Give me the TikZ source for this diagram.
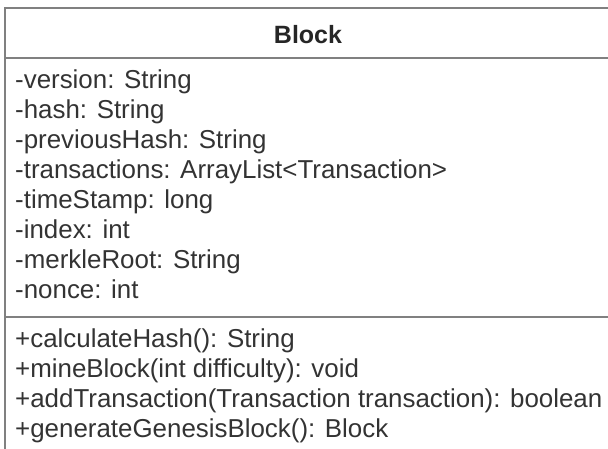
\documentclass[tikz,border=0pt]{standalone}
\usepackage{fontspec}
\setmainfont{Liberation Sans}

\begin{document}
\begin{tikzpicture}[
  x=1pt, y=-1pt,
  frame/.style={draw=black!50, line width=2.5pt},
  classname/.style={anchor=base, inner sep=0pt, font=\fontsize{25}{30}\selectfont\bfseries, text=black!85},
  member/.style={anchor=base west, inner sep=0pt, font=\fontsize{25.9}{30}\selectfont, text=black!80}
]
\useasboundingbox (0,0) rectangle (608,448);

% class box, cut off at the right and bottom
\draw[frame] (5,470) -- (5,8) -- (630,8);
\draw[frame] (5,58) -- (630,58);
\draw[frame] (5,317) -- (630,317);

\node[classname] (block) at (308,43) {Block};

% attributes
\node[member] (version) at (15,88) {-version: String};
\node[member] (hash) at (15,118) {-hash: String};
\node[member] (prevhash) at (15,148) {-previousHash: String};
\node[member] (transactions) at (15,178) {-transactions: ArrayList<Transaction>};
\node[member] (timestamp) at (15,208) {-timeStamp: long};
\node[member] (index) at (15,238) {-index: int};
\node[member] (merkle) at (15,268) {-merkleRoot: String};
\node[member] (nonce) at (15,298) {-nonce: int};

% methods
\node[member] (calchash) at (15,347) {+calculateHash(): String};
\node[member] (mine) at (15,377) {+mineBlock(int difficulty): void};
\node[member] (addtx) at (15,407) {+addTransaction(Transaction transaction): boolean};
\node[member] (genesis) at (15,437) {+generateGenesisBlock(): Block};

\end{tikzpicture}
\end{document}
